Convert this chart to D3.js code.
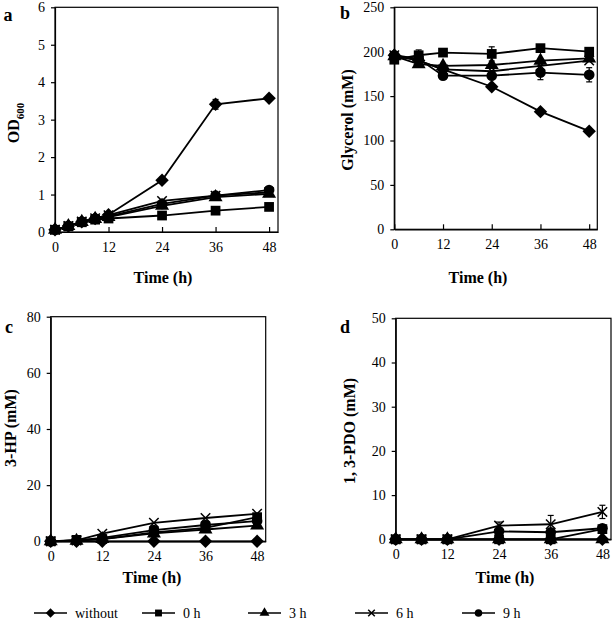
<!DOCTYPE html>
<html><head><meta charset="utf-8">
<script src="https://cdn.jsdelivr.net/npm/d3@7"></script>
<style>
body{margin:0;background:#fff;}
svg{display:block;}
svg text{font-family:"Liberation Serif","Times New Roman",serif;}
</style></head>
<body><svg id="c" width="615" height="623"></svg>
<script>
// ---------- data ----------
const seriesNames = ["without", "0 h", "3 h", "6 h", "9 h"];
const timesA = [0, 3, 6, 9, 12, 24, 36, 48];
const timesB = [0, 6, 12, 24, 36, 48];

// a: OD600
const odWithout = [0.06, 0.16, 0.27, 0.36, 0.46, 1.38, 3.41, 3.57];
const od0h      = [0.06, 0.15, 0.26, 0.33, 0.36, 0.44, 0.57, 0.67];
const od3h      = [0.06, 0.16, 0.27, 0.35, 0.40, 0.70, 0.93, 1.02];
const od6h      = [0.06, 0.16, 0.28, 0.37, 0.45, 0.83, 0.97, 1.06];
const od9h      = [0.06, 0.16, 0.28, 0.36, 0.42, 0.75, 0.97, 1.12];
const odErrWithout = [0, 0, 0, 0, 0.03, 0.08, 0.13, 0.04];

// b: Glycerol (mM)
const glyWithout = [196, 190, 180, 160.5, 132.5, 110.5];
const gly0h      = [191, 196, 199, 197.5, 204, 200];
const gly3h      = [195, 186, 184, 185, 190, 192.5];
const gly6h      = [196, 190, 180, 178, 184, 190];
const gly9h      = [196, 192, 173, 173, 176.5, 174];
const glyErr0h   = [3, 6, 4, 8, 2, 3];
const glyErr9h   = [2, 3, 3, 3, 8, 8];

// c: 3-HP (mM)
const hpWithout = [0, 0, 0, 0, 0, 0];
const hp0h      = [0, 0.5, 0.8, 3.2, 4.8, 8.6];
const hp3h      = [0, 0.2, 0.8, 2.8, 4.2, 5.6];
const hp6h      = [0, 0.3, 2.7, 6.6, 8.3, 9.8];
const hp9h      = [0, 0.3, 1.2, 4.0, 5.8, 7.2];

// d: 1,3-PDO (mM)
const pdoWithout = [0, 0, 0, 0, 0, 0];
const pdo0h      = [0, 0, 0, 0, 0, 2.3];
const pdo3h      = [0, 0, 0, 0, 0, 0];
const pdo6h      = [0, 0, 0, 3.1, 3.4, 6.2];
const pdo9h      = [0, 0, 0, 1.8, 1.6, 2.5];
const pdoErr6h   = [0, 0, 0, 0.8, 2.0, 1.5];

const xTicks = [0, 12, 24, 36, 48];
const yTicksA = [0, 1, 2, 3, 4, 5, 6];
const yTicksB = [0, 50, 100, 150, 200, 250];
const yTicksC = [0, 20, 40, 60, 80];
const yTicksD = [0, 10, 20, 30, 40, 50];

// ---------- drawing ----------
const FONT = "Liberation Serif";
const svg = d3.select("#c");
const symbolRhombus = {
  draw(ctx, size) {
    const r = Math.sqrt(size / 2);
    ctx.moveTo(0, -r); ctx.lineTo(r, 0); ctx.lineTo(0, r); ctx.lineTo(-r, 0); ctx.closePath();
  }
};
const symbolTypes = [symbolRhombus, d3.symbolSquare, d3.symbolTriangle, d3.symbolTimes, d3.symbolCircle];
const symbolSizes = [90, 95, 85, 60, 90];

function marker(g, i, x, y, scale) {
  const s = d3.symbol().type(symbolTypes[i]).size(symbolSizes[i] * (scale || 1));
  const p = g.append("path").attr("d", s()).attr("transform", `translate(${x},${y})`);
  if (i === 3) p.attr("fill", "none").attr("stroke", "#000").attr("stroke-width", 1.5);
  else p.attr("fill", "#000");
}

const panels = [
  {letter: "a", box: [55, 278, 7.3, 232], yDom: [0, 6], yTicks: yTicksA, times: timesA,
   series: [odWithout, od0h, od3h, od6h, od9h], errs: [odErrWithout, null, null, null, null],
   letterPos: [8, 21], yTitlePos: [13, 123], xTitlePos: [163, 283], yTitle: "OD"},
  {letter: "b", box: [394.3, 597.3, 7.3, 229.3], yDom: [0, 250], yTicks: yTicksB, times: timesB,
   series: [glyWithout, gly0h, gly3h, gly6h, gly9h], errs: [null, glyErr0h, null, null, glyErr9h],
   letterPos: [345, 19], yTitlePos: [347, 120], xTitlePos: [478, 283], yTitle: "Glycerol (mM)"},
  {letter: "c", box: [50.7, 265.7, 316.7, 541.3], yDom: [0, 80], yTicks: yTicksC, times: timesB,
   series: [hpWithout, hp0h, hp3h, hp6h, hp9h], errs: [null, null, null, null, null],
   letterPos: [9, 333], yTitlePos: [10, 428], xTitlePos: [152, 583], yTitle: "3-HP (mM)"},
  {letter: "d", box: [395.7, 611, 318.3, 539.3], yDom: [0, 50], yTicks: yTicksD, times: timesB,
   series: [pdoWithout, pdo0h, pdo3h, pdo6h, pdo9h], errs: [null, null, null, pdoErr6h, null],
   letterPos: [345, 333], yTitlePos: [349, 431], xTitlePos: [505, 583], yTitle: "1, 3-PDO (mM)"}
];

panels.forEach(p => {
  const [x0, x1, y0, y1] = p.box;
  const x = d3.scaleLinear().domain([0, 50]).range([x0, x1]);
  const y = d3.scaleLinear().domain(p.yDom).range([y1, y0]);
  const g = svg.append("g");

  g.append("rect").attr("x", x0).attr("y", y0).attr("width", x1 - x0).attr("height", y1 - y0)
    .attr("fill", "none").attr("stroke", "#000").attr("stroke-width", 1.2);

  const xa = g.append("g").attr("transform", `translate(0,${y1})`)
    .call(d3.axisBottom(x).tickValues(xTicks).tickFormat(d3.format("d"))
      .tickSizeInner(-5).tickSizeOuter(0).tickPadding(10));
  xa.attr("font-family", FONT);
  xa.select(".domain").attr("stroke-width", 1.2);
  xa.selectAll("line").attr("stroke-width", 1.2);
  xa.selectAll("text").attr("font-size", 14).attr("font-family", FONT).attr("fill", "#000");

  const ya = g.append("g").attr("transform", `translate(${x0},0)`)
    .call(d3.axisLeft(y).tickValues(p.yTicks).tickFormat(d3.format("d"))
      .tickSizeInner(4).tickSizeOuter(0).tickPadding(6));
  ya.attr("font-family", FONT);
  ya.select(".domain").attr("stroke-width", 1.2);
  ya.selectAll("line").attr("stroke-width", 1.2);
  ya.selectAll("text").attr("font-size", 14).attr("font-family", FONT).attr("fill", "#000");

  const line = d3.line().x((d, i) => x(p.times[i])).y(d => y(d));
  p.series.forEach(s => {
    g.append("path").datum(s).attr("d", line).attr("fill", "none")
      .attr("stroke", "#000").attr("stroke-width", 1.8);
  });
  p.series.forEach((s, si) => {
    const e = p.errs[si];
    if (!e) return;
    s.forEach((v, i) => {
      if (!e[i]) return;
      const cx = x(p.times[i]);
      const ya0 = y(v - e[i]), ya1 = y(v + e[i]);
      g.append("line").attr("x1", cx).attr("x2", cx).attr("y1", ya0).attr("y2", ya1)
        .attr("stroke", "#000").attr("stroke-width", 1.2);
      [ya0, ya1].forEach(yy => g.append("line").attr("x1", cx - 3).attr("x2", cx + 3)
        .attr("y1", yy).attr("y2", yy).attr("stroke", "#000").attr("stroke-width", 1.2));
    });
  });
  p.series.forEach((s, si) => {
    s.forEach((v, i) => marker(g, si, x(p.times[i]), y(v)));
  });

  g.append("text").attr("x", p.letterPos[0]).attr("y", p.letterPos[1]).attr("text-anchor", "middle")
    .attr("font-family", FONT).attr("font-weight", "bold").attr("font-size", 18).text(p.letter);
  g.append("text").attr("x", p.xTitlePos[0]).attr("y", p.xTitlePos[1]).attr("text-anchor", "middle")
    .attr("font-family", FONT).attr("font-weight", "bold").attr("font-size", 16).text("Time (h)");
  const yt = g.append("text").attr("transform", `translate(${p.yTitlePos[0]},${p.yTitlePos[1]}) rotate(-90)`)
    .attr("text-anchor", "middle").attr("dy", "0.35em").attr("font-family", FONT)
    .attr("font-weight", "bold").attr("font-size", 16);
  if (p.yTitle === "OD") {
    yt.append("tspan").text("OD");
    yt.append("tspan").attr("font-size", 11).attr("dy", "0.45em").text("600");
  } else yt.text(p.yTitle);
});

const legX = [34, 142, 248, 355, 462];
const legG = svg.append("g");
seriesNames.forEach((n, i) => {
  const lx = legX[i], ly = 613;
  legG.append("line").attr("x1", lx).attr("x2", lx + 33).attr("y1", ly).attr("y2", ly)
    .attr("stroke", "#000").attr("stroke-width", 1.6);
  marker(legG, i, lx + 16.5, ly, 0.5);
  legG.append("text").attr("x", lx + 41).attr("y", ly).attr("dy", "0.35em")
    .attr("font-family", FONT).attr("font-size", 14).text(n);
});
</script></body></html>
